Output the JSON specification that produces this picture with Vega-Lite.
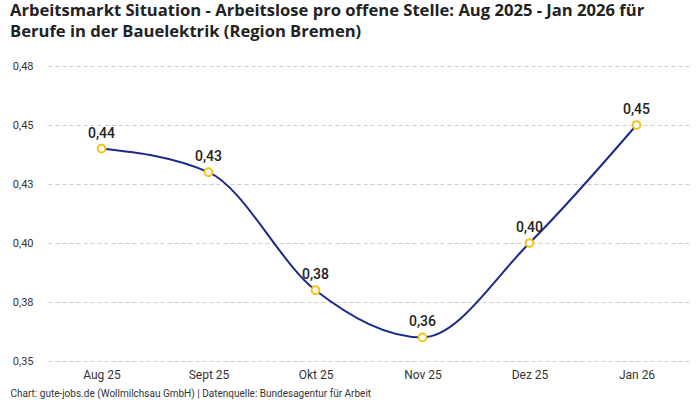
{
  "$schema": "https://vega.github.io/schema/vega-lite/v6.json",
  "autosize": {"type": "none"},
  "padding": {"left": 48, "top": 66, "right": 10, "bottom": 39},
  "width": 642,
  "height": 295,
  "background": "white",
  "config": {
    "font": "Roboto",
    "view": {"stroke": null},
    "axis": {"labelFont": "Roboto", "titleFont": "Roboto"},
    "locale": {
      "number": {"decimal": ",", "thousands": ".", "grouping": [3], "currency": ["", " €"]}
    }
  },
  "title": {
    "text": ["Arbeitsmarkt Situation - Arbeitslose pro offene Stelle: Aug 2025 - Jan 2026 für", "Berufe in der Bauelektrik (Region Bremen)"],
    "anchor": "start",
    "frame": "group",
    "dx": -38,
    "offset": 19,
    "fontSize": 16.6,
    "fontWeight": "bold",
    "lineHeight": 21,
    "color": "#222222",
    "font": "Open Sans"
  },
  "data": {
    "values": [
      {"monat": "Aug 25", "wert": 0.44},
      {"monat": "Sept 25", "wert": 0.43},
      {"monat": "Okt 25", "wert": 0.38},
      {"monat": "Nov 25", "wert": 0.36},
      {"monat": "Dez 25", "wert": 0.40},
      {"monat": "Jan 26", "wert": 0.45}
    ]
  },
  "encoding": {
    "x": {
      "field": "monat",
      "type": "ordinal",
      "sort": null,
      "scale": {"type": "point", "padding": 0.5},
      "axis": {
        "title": "Chart: gute-jobs.de (Wollmilchsau GmbH) | Datenquelle: Bundesagentur für Arbeit",
        "titleAnchor": "start",
        "titleAlign": "left",
        "titleX": -38,
        "titleY": 27,
        "titleBaseline": "top",
        "titleFontSize": 10,
        "titleFontWeight": "normal",
        "titleColor": "#333333",
        "labelAngle": 0,
        "labelFontSize": 12,
        "labelColor": "#333333",
        "labelPadding": 8,
        "domain": false,
        "ticks": false,
        "grid": false
      }
    },
    "y": {
      "field": "wert",
      "type": "quantitative",
      "scale": {"domain": [0.35, 0.475], "nice": false, "zero": false},
      "axis": {
        "title": null,
        "values": [0.35, 0.375, 0.4, 0.425, 0.45, 0.475],
        "labelExpr": "format(datum.value + 0.0001, '.2f')",
        "labelFontSize": 11,
        "labelColor": "#333333",
        "labelPadding": 15,
        "domain": false,
        "ticks": false,
        "grid": true,
        "gridColor": "#cccccc",
        "gridDash": [4, 3],
        "gridWidth": 1
      }
    }
  },
  "layer": [
    {
      "mark": {"type": "line", "interpolate": "monotone", "color": "#1c2a8c", "strokeWidth": 2}
    },
    {
      "mark": {"type": "point", "filled": true, "fill": "white", "stroke": "#f5c211", "strokeWidth": 2, "size": 60, "opacity": 1}
    },
    {
      "mark": {"type": "text", "dy": -15, "fontSize": 14, "fontWeight": 500, "color": "#222222"},
      "encoding": {
        "text": {"field": "wert", "type": "quantitative", "format": ".2f"}
      }
    }
  ]
}
